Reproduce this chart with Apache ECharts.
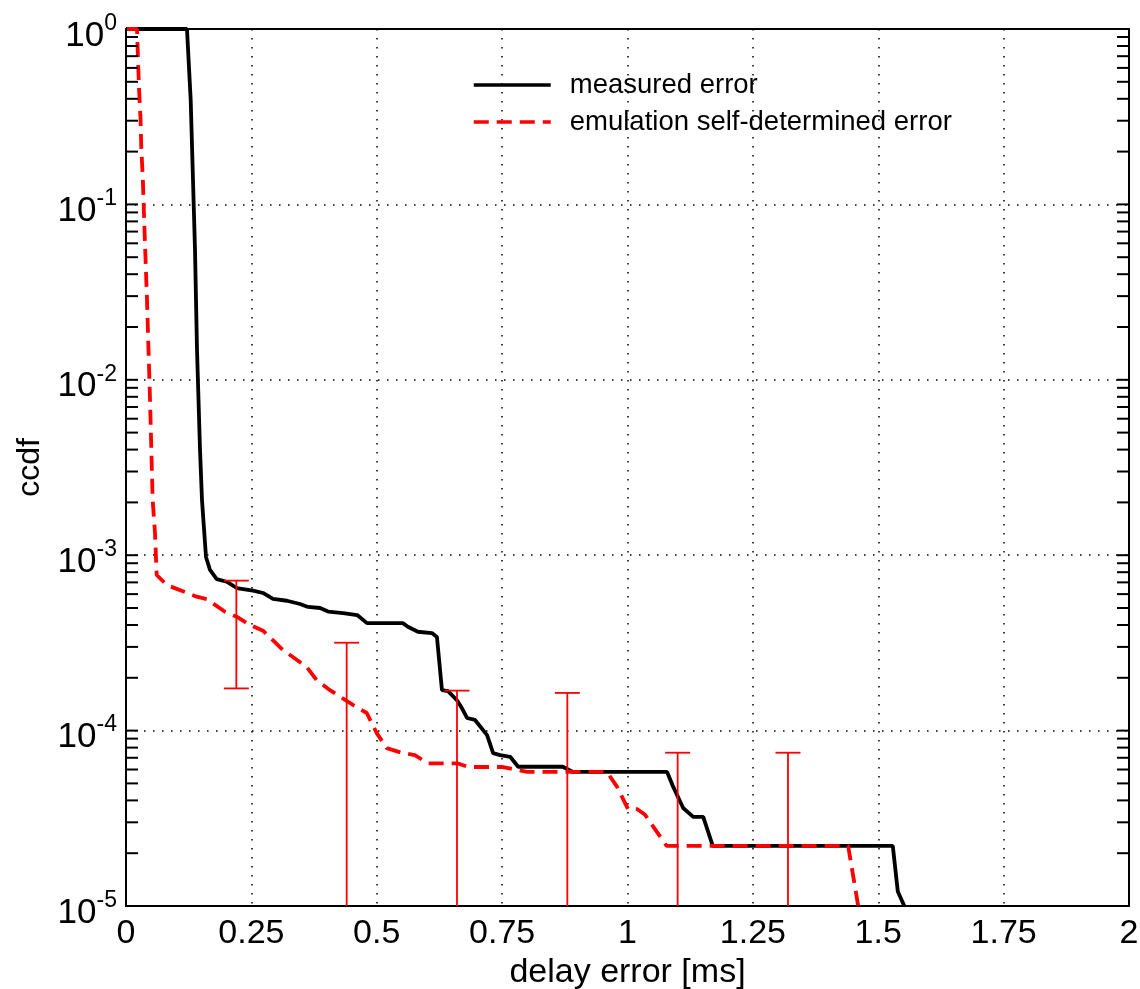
<!DOCTYPE html>
<html>
<head>
<meta charset="utf-8">
<script src="https://cdn.jsdelivr.net/npm/echarts@6/dist/echarts.min.js"></script>
<style>
html,body{margin:0;padding:0;background:#fff;}
#chart{width:1140px;height:989px;}
</style>
</head>
<body>
<div id="chart"></div>
<script>
// ---- data ----
const xTicks = [0, 0.25, 0.5, 0.75, 1, 1.25, 1.5, 1.75, 2];
const yTickExponents = [0, -1, -2, -3, -4, -5];

const measuredX = [0, 0.1216, 0.129, 0.1376, 0.1416, 0.1476, 0.1515, 0.1595, 0.1675, 0.1809, 0.2008, 0.2207, 0.2532, 0.2732, 0.2931, 0.321, 0.347, 0.363, 0.387, 0.403, 0.433, 0.461, 0.4805, 0.552, 0.562, 0.582, 0.610, 0.620, 0.630, 0.642, 0.660, 0.670, 0.680, 0.696, 0.720, 0.732, 0.746, 0.766, 0.782, 0.871, 0.891, 1.079, 1.091, 1.111, 1.131, 1.151, 1.170, 1.529, 1.539, 1.552];
const measuredY = [1, 1, 0.394, 0.055, 0.0148, 0.00398, 0.00207, 9.77e-4, 8.24e-4, 7.31e-4, 7.06e-4, 6.50e-4, 6.28e-4, 6.09e-4, 5.63e-4, 5.50e-4, 5.27e-4, 5.07e-4, 5.00e-4, 4.77e-4, 4.68e-4, 4.56e-4, 4.10e-4, 4.10e-4, 3.91e-4, 3.66e-4, 3.60e-4, 3.42e-4, 1.70e-4, 1.68e-4, 1.49e-4, 1.34e-4, 1.18e-4, 1.15e-4, 9.42e-5, 7.44e-5, 7.25e-5, 7.09e-5, 6.22e-5, 6.22e-5, 5.81e-5, 5.81e-5, 4.79e-5, 3.62e-5, 3.22e-5, 3.22e-5, 2.20e-5, 2.20e-5, 1.21e-5, 1.0e-5];

const emulX = [0.002, 0.0219, 0.0259, 0.0289, 0.0305, 0.0335, 0.0369, 0.0419, 0.0479, 0.0532, 0.0578, 0.0612, 0.0812, 0.141, 0.161, 0.1974, 0.2207, 0.2473, 0.2732, 0.313, 0.360, 0.380, 0.4068, 0.4526, 0.480, 0.500, 0.520, 0.552, 0.576, 0.602, 0.662, 0.682, 0.752, 0.800, 0.959, 0.979, 1.001, 1.019, 1.035, 1.078, 1.440, 1.460];
const emulY = [1, 1, 0.461, 0.311, 0.21, 0.141, 0.0714, 0.0285, 0.00767, 0.00206, 0.00134, 7.71e-4, 6.76e-4, 5.80e-4, 5.62e-4, 4.76e-4, 4.46e-4, 4.00e-4, 3.71e-4, 2.88e-4, 2.31e-4, 1.94e-4, 1.70e-4, 1.40e-4, 1.26e-4, 9.68e-5, 7.94e-5, 7.44e-5, 7.25e-5, 6.5e-5, 6.5e-5, 6.2e-5, 6.2e-5, 5.81e-5, 5.81e-5, 4.79e-5, 3.57e-5, 3.57e-5, 3.31e-5, 2.20e-5, 2.20e-5, 1.0e-5];

const errX = [0.22, 0.44, 0.66, 0.88, 1.10, 1.32];
const errHigh = [7.16e-4, 3.17e-4, 1.69e-4, 1.64e-4, 7.48e-5, 7.48e-5];
const errLow = [1.74e-4, 0, 0, 0, 0, 0]; // 0 = below the plotted range

const yMinorTicks = [];
for (let d = -5; d <= -1; d++) { for (let m = 1; m <= 9; m++) { yMinorTicks.push(m * Math.pow(10, d)); } }

// ---- chart ----
const FONT = 'Liberation Sans, Arial, sans-serif';
const chart = echarts.init(document.getElementById('chart'), null, {renderer: 'canvas'});
const zip = (a, b) => a.map((v, i) => [v, b[i]]);

const option = {
  animation: false,
  backgroundColor: '#fff',
  grid: {left: 126, top: 29, right: 11, bottom: 83, containLabel: false, outerBoundsMode: 'none'},
  legend: {
    orient: 'vertical', left: 467, top: 64,
    itemWidth: 77, itemHeight: 14, itemGap: 5,
    data: ['measured error', 'emulation self-determined error'],
    itemStyle: {opacity: 0},
    lineStyle: {width: 3.5},
    textStyle: {fontFamily: FONT, fontSize: 27.5, lineHeight: 32, color: '#000', padding: [0, 0, 0, 14]},
    selectedMode: false
  },
  xAxis: [{
    type: 'value', min: 0, max: 2, interval: 0.25, position: 'bottom',
    axisLine: {show: true, onZero: false, lineStyle: {color: '#000', width: 2}},
    axisTick: {show: false},
    axisLabel: {fontFamily: FONT, fontSize: 34, color: '#000', margin: 11, formatter: v => String(v)},
    splitLine: {show: true, lineStyle: {color: '#000', width: 1.5, type: [1.5, 7.5]}},
    name: 'delay error [ms]', nameLocation: 'middle', nameGap: 48,
    nameTextStyle: {fontFamily: FONT, fontSize: 34, color: '#000'}
  }, {
    type: 'value', min: 0, max: 2, position: 'top',
    axisLine: {show: true, onZero: false, lineStyle: {color: '#000', width: 2}},
    axisTick: {show: false}, axisLabel: {show: false}, splitLine: {show: false}
  }],
  yAxis: [{
    type: 'log', logBase: 10, min: 1e-5, max: 1, position: 'left',
    axisLine: {show: true, onZero: false, lineStyle: {color: '#000', width: 2}},
    axisTick: {show: false},
    axisLabel: {
      margin: 9, fontFamily: FONT, color: '#000',
      formatter: v => '{b|10}{s|' + Math.round(Math.log10(v)) + '}',
      rich: {
        b: {fontFamily: FONT, fontSize: 35, lineHeight: 34, padding: [14, 0, 0, 0], color: '#000'},
        s: {fontFamily: FONT, fontSize: 23, lineHeight: 23, verticalAlign: 'top', color: '#000'}
      }
    },
    splitLine: {show: true, lineStyle: {color: '#000', width: 1.5, type: [1.5, 7.5]}},
    name: 'ccdf', nameLocation: 'middle', nameGap: 80,
    nameTextStyle: {fontFamily: FONT, fontSize: 32, color: '#000'}
  }, {
    type: 'log', logBase: 10, min: 1e-5, max: 1, position: 'right',
    axisLine: {show: true, onZero: false, lineStyle: {color: '#000', width: 2}},
    axisTick: {show: false}, axisLabel: {show: false}, splitLine: {show: false}
  }],
  series: [{
    name: 'minor ticks', type: 'custom', xAxisIndex: 0, yAxisIndex: 0, silent: true, z: 5,
    data: yMinorTicks.map(v => [0, v]),
    encode: {x: 0, y: 1},
    renderItem: function (params, api) {
      const cs = params.coordSys;
      const y = api.coord([0, api.value(1)])[1];
      const st = {stroke: '#000', lineWidth: 2};
      return {type: 'group', children: [
        {type: 'line', shape: {x1: cs.x, y1: y, x2: cs.x + 12, y2: y}, style: st},
        {type: 'line', shape: {x1: cs.x + cs.width - 12, y1: y, x2: cs.x + cs.width, y2: y}, style: st}
      ]};
    }
  }, {
    name: 'measured error', type: 'line', xAxisIndex: 0, yAxisIndex: 0,
    data: zip(measuredX, measuredY), symbol: 'none', z: 3,
    lineStyle: {color: '#000', width: 3.8}, itemStyle: {color: '#000'}
  }, {
    name: 'emulation self-determined error', type: 'line', xAxisIndex: 0, yAxisIndex: 0,
    data: zip(emulX, emulY), symbol: 'none', z: 4,
    lineStyle: {color: '#ff0000', width: 3.8, type: [15, 8]}, itemStyle: {color: '#ff0000'}
  }, {
    name: 'error bars', type: 'custom', xAxisIndex: 0, yAxisIndex: 0, silent: true, z: 6,
    clip: true,
    data: errX.map((x, i) => [x, errHigh[i], errLow[i]]),
    encode: {x: 0, y: 1},
    renderItem: function (params, api) {
      const cs = params.coordSys;
      const x = api.value(0), hi = api.value(1), lo = api.value(2);
      const pHi = api.coord([x, hi]);
      const bottom = cs.y + cs.height;
      const yLo = lo > 0 ? api.coord([x, lo])[1] : bottom + 5;
      const st = {stroke: '#ff0000', lineWidth: 1.8};
      const children = [
        {type: 'line', shape: {x1: pHi[0], y1: pHi[1], x2: pHi[0], y2: Math.min(yLo, bottom)}, style: st},
        {type: 'line', shape: {x1: pHi[0] - 12.5, y1: pHi[1], x2: pHi[0] + 12.5, y2: pHi[1]}, style: st}
      ];
      if (lo > 0) children.push({type: 'line', shape: {x1: pHi[0] - 12.5, y1: yLo, x2: pHi[0] + 12.5, y2: yLo}, style: st});
      return {type: 'group', children: children};
    }
  }]
};
chart.setOption(option);
</script>
</body>
</html>
